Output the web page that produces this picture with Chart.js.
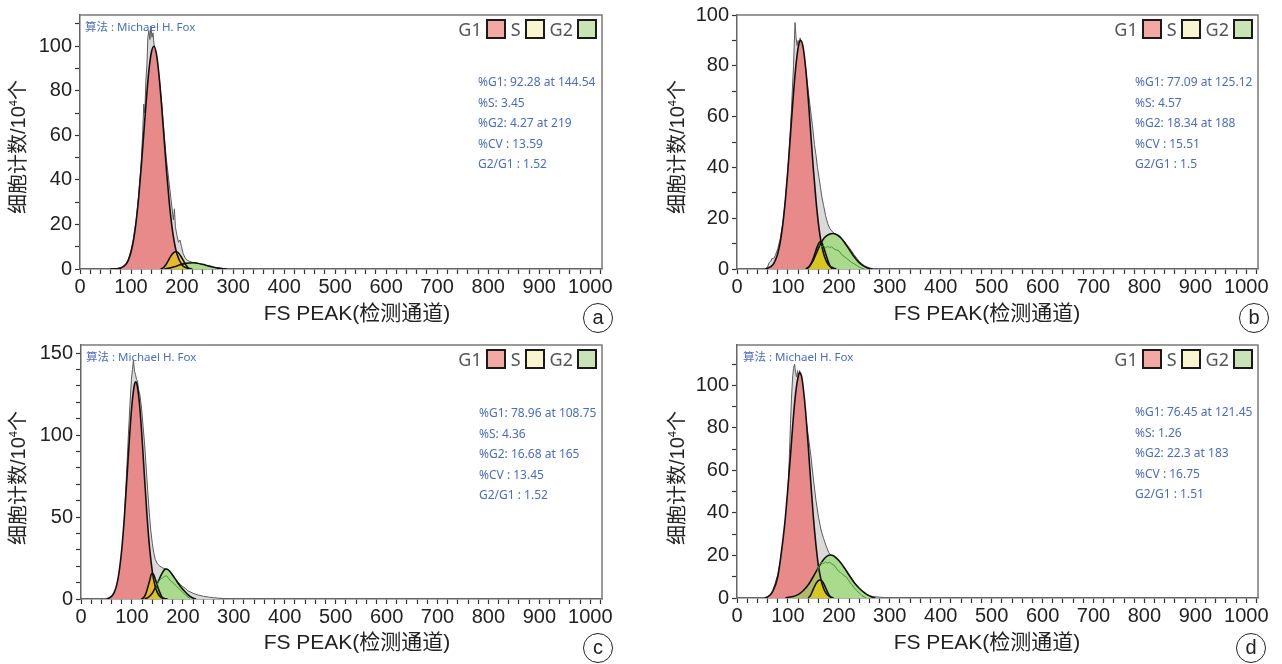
<!DOCTYPE html>
<html lang="zh">
<head>
<meta charset="UTF-8">
<title>FS PEAK 细胞周期直方图</title>
<script src="https://cdn.jsdelivr.net/npm/chart.js"></script>
<style>
  * { margin: 0; padding: 0; box-sizing: border-box; }
  body { background: #fff; width: 1282px; height: 664px; overflow: hidden; }
  #page { position: relative; width: 1282px; height: 664px; }
  .panel { position: absolute; }
  .panel canvas { display: block; }
  .algo { position: absolute; top: 20px; font: 11.5px 'Noto Sans', 'Noto Sans CJK SC', sans-serif; color: #4a6cc4; line-height: 14px; white-space: nowrap; }
  .legend { position: absolute; top: 19px; display: flex; align-items: center; font: 18px 'Noto Sans', sans-serif; color: #555; line-height: 20px; }
  .legend i { display: inline-block; width: 20px; height: 20px; border: 2px solid #1a1a1a; margin: 0 5px 0 4px; }
  .legend i:last-child { margin-right: 0; }
  .stats { position: absolute; font: 12px 'Noto Sans', sans-serif; color: #4a6cc4; line-height: 20.5px; white-space: nowrap; }
  .xtitle, .ytitle { position: absolute; white-space: nowrap; color: #222; font-family: 'Liberation Sans', Arial, 'Noto Sans CJK SC', sans-serif; line-height: 24px; }
  .xtitle { font-size: 21px; transform: translate(-50%, -50%); }
  .ytitle { font-size: 20px; transform: translate(-50%, -50%) rotate(-90deg); }
  .ytitle sup { font-size: 11px; vertical-align: 8px; line-height: 0; }
  .tag { position: absolute; width: 30px; height: 30px; border: 1.5px solid #222; border-radius: 50%;
         font: 20px 'Liberation Sans', Arial, sans-serif; text-align: center; line-height: 27px; color: #222; }
</style>
</head>
<body>
<div id="page"></div>

<script>
  // ---- data: [channel, count (10^4)] ----
  const rawA = [[65,0],[70,0.2],[75,0.3],[80,0.6],[85,1.2],[90,2.4],[95,4.5],[100,8.5],[105,14],[110,22],[115,33],[120,48],[123,62],[125,74],[127,70],[129,84],[131,91],[133,104],[135,107],[137,103],[139,109],[141,104],[143,106],[145,101],[148,98],[151,94],[154,88],[157,82],[160,75],[163,66],[166,58],[169,50],[172,44],[175,38],[178,32],[181,26],[183,22],[185,27],[187,19],[190,15],[193,12],[196,13],[199,10],[202,7],[206,5],[210,4],[215,3.4],[220,3],[230,2.6],[240,2],[250,1.4],[260,0.9],[270,0.5],[280,0.2],[290,0]];
  const g1A = [[60,0],[70,0.1],[80,0.4],[90,2.1],[95,4.1],[100,7.6],[105,13.1],[110,21.2],[115,32.2],[120,45.8],[125,61],[130,76],[135,89],[140,97.4],[145,100],[150,96.2],[155,86.6],[160,73.1],[165,57.9],[170,42.9],[175,29.8],[180,19.4],[185,11.8],[190,6.7],[200,1.8],[210,0.4],[220,0]];
  const sA = [[158,0],[163,0.5],[168,1.8],[173,3.8],[178,5.8],[183,7.2],[188,7.8],[193,7.2],[198,5.6],[203,3.6],[208,1.6],[212,0.4],[215,0]];
  const g2A = [[165,0],[175,0.4],[185,1],[195,1.8],[205,2.4],[215,2.7],[222,2.8],[230,2.6],[240,2.1],[250,1.5],[260,0.9],[270,0.4],[280,0.1],[288,0]];
  const residA = [];

  const rawB = [[55,0],[60,0.8],[63,2.5],[66,3],[69,4.2],[72,4],[75,5.2],[80,8],[85,12],[90,18],[95,27],[100,39],[104,52],[107,63],[109,72],[111,80],[113,92],[114,97],[116,91],[118,88],[120,90],[122,89],[124,91],[126,88],[128,89],[131,85],[134,80],[137,75],[140,70],[143,65],[146,60],[149,55],[152,49],[155,45],[158,40],[161,36],[164,32],[167,28],[170,25],[174,21],[178,18],[182,16],[186,15],[190,14.2],[195,13.6],[200,13],[210,11],[220,8.5],[230,5.6],[240,3],[250,1.3],[260,0.4],[270,0]];
  const g1B = [[55,0],[60,0.3],[70,1.6],[75,3.3],[80,6.1],[85,10.7],[90,17.7],[95,27.3],[100,39.2],[105,52.9],[110,66.8],[115,78.8],[120,87.1],[125,90],[130,87.1],[135,78.8],[140,66.8],[145,52.9],[150,39.2],[155,27.3],[160,17.7],[165,10.7],[170,6.1],[175,3.3],[180,1.6],[190,0.3],[195,0]];
  const sB = [[136,0],[142,1],[147,2.8],[152,5.5],[157,8.5],[161,10.3],[164,10.9],[167,10.2],[171,8],[175,5.5],[179,3],[183,1],[187,0]];
  const g2B = [[135,0],[142,1],[150,3.5],[158,7.2],[165,10.3],[172,12.4],[180,13.6],[189,14],[198,13.3],[206,11.8],[214,9.6],[222,7.2],[230,4.8],[238,2.9],[246,1.5],[254,0.6],[262,0.1],[266,0]];
  const residB = [[162,9.5],[166,8.7],[170,9.2],[174,8.2],[178,9],[182,8.4],[186,8.8],[190,7.9],[195,7.5],[200,7.2],[205,5.8],[210,5],[215,4.2],[220,3.4],[225,2.6],[230,2],[235,1.4],[240,0.7],[245,0.3],[250,0]];

  const rawC = [[55,0],[60,1],[65,2.5],[70,4],[75,9],[80,22],[83,35],[86,55],[90,80],[93,100],[96,118],[99,134],[101,140],[103,146],[105,139],[107,137],[109,134],[111,133],[113,128],[116,124],[119,116],[122,105],[125,94],[128,80],[131,66],[134,53],[137,42],[140,34],[143,28],[146,24],[150,21.5],[155,20],[160,19],[165,18.5],[170,18],[175,16.5],[180,14.5],[185,12.5],[190,10.5],[195,9],[200,7.5],[205,6.5],[210,5],[220,3.5],[230,2.4],[240,1.7],[250,1.2],[260,0.8],[270,0.5],[280,0.3],[290,0]];
  const g1C = [[50,0],[55,0.6],[60,1.6],[65,3.9],[70,8.5],[75,16.9],[80,30.2],[85,49.2],[90,72.8],[95,97.6],[100,118.7],[105,130.9],[107.5,132.5],[110,130.9],[115,118.7],[120,97.6],[125,72.8],[130,49.2],[135,30.2],[140,16.9],[145,8.5],[150,3.9],[155,1.6],[160,0.6],[165,0.2],[170,0]];
  const sC = [[118,0],[122,0.5],[127,3],[131,7],[135,11.5],[139,15.5],[142,15.2],[146,12],[150,8],[154,4.5],[158,1.8],[161,0.4],[163,0]];
  const g2C = [[125,0],[132,1],[140,3.5],[146,7],[152,11],[158,15],[163,17.6],[168,18.3],[174,17],[180,14.5],[186,11.8],[192,9],[198,6.6],[204,4.6],[210,2.7],[216,1.2],[222,0.3],[226,0]];
  const residC = [[148,8],[152,10.5],[156,12],[160,12.8],[164,13.8],[168,14.2],[172,12.5],[176,11],[180,10.2],[185,8.5],[190,7],[195,5.5],[200,4],[205,2.5],[210,1.2],[214,0.3]];

  const rawD = [[55,0],[60,0.6],[65,1.5],[70,3.5],[75,7],[80,11],[85,17],[90,25],[95,36],[100,50],[103,68],[105,82],[107,94],[109,103],[111,108],[113,110],[115,106],[117,104],[119,107],[121,103],[123,107],[126,101],[130,95],[135,85],[140,76],[145,67],[150,56],[155,46],[160,38],[165,32],[170,28],[175,24.5],[180,21.5],[185,20],[190,19.5],[200,17.5],[210,14.5],[220,11],[230,7.5],[240,4.5],[250,2.2],[260,1],[270,0.6],[280,0.4],[290,0.2],[300,0]];
  const g1D = [[55,0],[60,0.5],[70,3],[80,10],[90,27],[95,38],[100,52],[105,67],[110,83],[115,96],[120,104],[123,106],[127,104],[130,99],[135,87],[140,71],[145,54],[150,38],[155,25],[160,15],[165,8.5],[170,4.5],[175,2.2],[180,1],[185,0.3],[190,0]];
  const sD = [[140,0],[145,1.5],[150,4.3],[155,6.8],[159,8.1],[163,8.5],[167,8],[171,6.4],[175,4.3],[179,2.2],[183,0.7],[186,0]];
  const g2D = [[95,0],[100,0.3],[110,0.7],[120,1.6],[130,3.4],[140,6.2],[150,10.1],[160,14.4],[170,18.1],[177,19.7],[183,20.2],[190,19.8],[200,17.6],[210,14.5],[220,10.8],[230,7.3],[240,4.6],[250,2.5],[260,1],[266,0.4],[272,0]];
  const residD = [[158,13],[162,15.5],[166,16.8],[170,16.2],[174,17],[178,16.4],[182,16.8],[186,16],[190,15.6],[195,14],[200,12.5],[205,11.6],[210,10.6],[215,9.8],[220,8],[225,6.4],[230,4.8],[235,3.5],[240,2.4],[245,1.2],[250,0.5],[254,0]];

  // axis ranges and the fit report printed in each panel
  const yMaxes = [114, 100, 155, 119];
  const yMajors = [20, 20, 50, 20];
  const xMax = 1023;
  const statsA = ['%G1: 92.28 at 144.54', '%S: 3.45', '%G2: 4.27 at 219', '%CV : 13.59', 'G2/G1 : 1.52'];
  const statsB = ['%G1: 77.09 at 125.12', '%S: 4.57', '%G2: 18.34 at 188', '%CV : 15.51', 'G2/G1 : 1.5'];
  const statsC = ['%G1: 78.96 at 108.75', '%S: 4.36', '%G2: 16.68 at 165', '%CV : 13.45', 'G2/G1 : 1.52'];
  const statsD = ['%G1: 76.45 at 121.45', '%S: 1.26', '%G2: 22.3 at 183', '%CV : 16.75', 'G2/G1 : 1.51'];
  const algoText = '算法 : Michael H. Fox';
  const xTitle = 'FS PEAK(检测通道)';
  const yTitle = '细胞计数/10<sup>4</sup>个';
  const legendNames = ['G1', 'S', 'G2'];
  const legendColors = ['#f4a8a6', '#faf5cf', '#c9e4b5'];

  // panel placement (page pixels), chart-area padding and overlay positions
  const panels = [
    { tag: 'a', left: 0,   top: 0,   w: 640, h: 330, pad: { left: 0, top: 15, right: 38, bottom: 6 },  yw: 80, algo: 85,
      raw: rawA, g1: g1A, s: sA, g2: g2A, resid: residA, stats: statsA, sx: 478, sy: 72, tx: 583, ty: 303,
      xt: [357, 313], yt: [18, 147] },
    { tag: 'b', left: 660, top: 0,   w: 622, h: 330, pad: { left: 0, top: 15, right: 24, bottom: 6 },  yw: 77, algo: null,
      raw: rawB, g1: g1B, s: sB, g2: g2B, resid: residB, stats: statsB, sx: 475, sy: 72, tx: 579, ty: 303,
      xt: [327, 313], yt: [17, 147] },
    { tag: 'c', left: 0,   top: 330, w: 640, h: 334, pad: { left: 0, top: 15, right: 38, bottom: 10 }, yw: 81, algo: 86,
      raw: rawC, g1: g1C, s: sC, g2: g2C, resid: residC, stats: statsC, sx: 479, sy: 73, tx: 583, ty: 303,
      xt: [357, 312], yt: [18, 148] },
    { tag: 'd', left: 660, top: 330, w: 622, h: 334, pad: { left: 0, top: 14, right: 24, bottom: 11 }, yw: 77, algo: 83,
      raw: rawD, g1: g1D, s: sD, g2: g2D, resid: residD, stats: statsD, sx: 475, sy: 72, tx: 576, ty: 303,
      xt: [327, 312], yt: [17, 148] }
  ];

  const axisFont = "'Liberation Sans', Arial, 'Noto Sans CJK SC', sans-serif";

  // top and right edges of the plot frame
  const framePlugin = {
    id: 'frame',
    afterDraw(chart) {
      const { ctx, chartArea: { left, top, right, bottom } } = chart;
      ctx.save();
      ctx.strokeStyle = '#7a7a7a';
      ctx.lineWidth = 1.5;
      ctx.beginPath();
      ctx.moveTo(left, top);
      ctx.lineTo(right, top);
      ctx.lineTo(right, bottom);
      ctx.stroke();
      ctx.restore();
    }
  };

  const pts = arr => arr.map(([x, y]) => ({ x, y }));

  function curve(arr, extra) {
    return Object.assign({
      data: pts(arr), pointRadius: 0, borderWidth: 0, fill: false,
      cubicInterpolationMode: 'monotone'
    }, extra);
  }

  function overlay(parent, cls, html, css) {
    const el = document.createElement('div');
    el.className = cls;
    el.innerHTML = html;
    Object.assign(el.style, css);
    parent.appendChild(el);
    return el;
  }

  function drawPanel(p, i) {
    const page = document.getElementById('page');
    const box = overlay(page, 'panel', '', { left: p.left + 'px', top: p.top + 'px', width: p.w + 'px', height: p.h + 'px' });
    const cv = document.createElement('canvas');
    cv.width = p.w; cv.height = p.h;
    box.appendChild(cv);

    const plotRight = p.w - p.pad.right;
    if (p.algo !== null) overlay(box, 'algo', algoText, { left: p.algo + 'px' });
    const lg = overlay(box, 'legend', '', { right: (p.w - plotRight + 5) + 'px' });
    legendNames.forEach((n, k) => {
      const s = document.createElement('span');
      s.textContent = n;
      const sw = document.createElement('i');
      sw.style.background = legendColors[k];
      lg.append(s, sw);
    });
    overlay(box, 'stats', p.stats.map(t => `<div>${t}</div>`).join(''), { left: p.sx + 'px', top: p.sy + 'px' });
    overlay(box, 'xtitle', xTitle, { left: p.xt[0] + 'px', top: p.xt[1] + 'px' });
    overlay(box, 'ytitle', yTitle, { left: p.yt[0] + 'px', top: p.yt[1] + 'px' });
    overlay(page, 'tag', p.tag, { left: (p.left + p.tx) + 'px', top: (p.top + p.ty) + 'px' });

    const yMajor = yMajors[i];
    new Chart(cv, {
      type: 'line',
      data: {
        datasets: [
          curve(p.resid, { borderColor: '#3d9a35', borderWidth: 1, tension: 0, cubicInterpolationMode: 'default', order: 1 }),
          curve(p.s,  { borderColor: '#111', borderWidth: 1.6, order: 2 }),
          curve(p.g2, { borderColor: '#111', borderWidth: 1.6, order: 3 }),
          curve(p.g1, { borderColor: '#111', borderWidth: 1.6, order: 4 }),
          curve(p.s,  { fill: 'origin', backgroundColor: 'rgba(230,205,0,0.7)', order: 5 }),
          curve(p.g2, { fill: 'origin', backgroundColor: 'rgba(138,218,88,0.6)', order: 6 }),
          curve(p.g1, { fill: 'origin', backgroundColor: '#e98a8a', order: 7 }),
          curve(p.raw, { fill: 'origin', backgroundColor: '#dadada', borderColor: '#5a5a5a', borderWidth: 1,
                         tension: 0, cubicInterpolationMode: 'default', order: 8 })
        ]
      },
      options: {
        responsive: false,
        animation: false,
        events: [],
        layout: { padding: p.pad },
        plugins: { legend: { display: false }, tooltip: { enabled: false } },
        scales: {
          x: {
            type: 'linear', min: 0, max: xMax, bounds: 'data',
            ticks: {
              stepSize: 20, includeBounds: false, autoSkip: false, maxRotation: 0, padding: 1,
              color: '#222', font: { size: 20, family: axisFont },
              callback: v => v % 100 === 0 ? v : ''
            },
            grid: {
              drawOnChartArea: false, tickLength: 5, tickWidth: 1.2,
              tickColor: c => (c.tick && c.tick.value % 20 === 0) ? '#333' : 'rgba(0,0,0,0)'
            },
            border: { color: '#666', width: 1.5 },
            title: { display: false },
            afterFit: s => { s.height = 55; }
          },
          y: {
            type: 'linear', min: 0, max: yMaxes[i], bounds: 'data',
            ticks: {
              stepSize: 10, includeBounds: false, autoSkip: false, padding: 3,
              color: '#222', font: { size: 20, family: axisFont },
              callback: v => v % yMajor === 0 ? v : ''
            },
            grid: {
              drawOnChartArea: false, tickLength: 5, tickWidth: 1.2,
              tickColor: c => (c.tick && c.tick.value % 10 === 0) ? '#333' : 'rgba(0,0,0,0)'
            },
            border: { color: '#666', width: 1.5 },
            title: { display: false },
            afterFit: s => { s.width = p.yw; }
          }
        }
      },
      plugins: [framePlugin]
    });
  }

  panels.forEach(drawPanel);
</script>
</body>
</html>
